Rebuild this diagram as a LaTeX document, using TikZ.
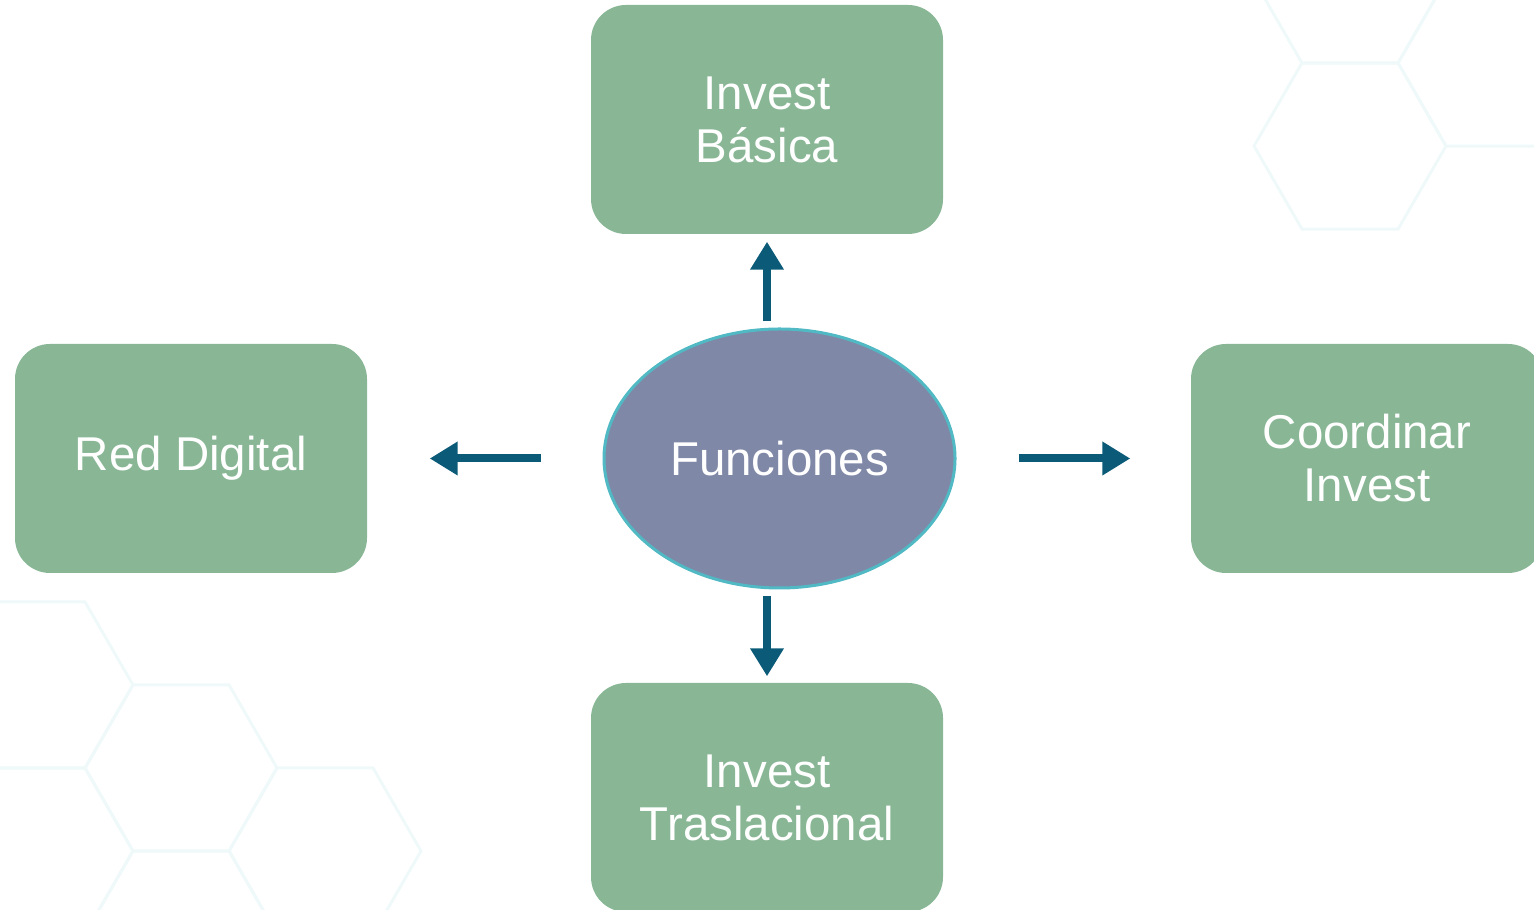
\documentclass[tikz,border=0pt]{standalone}
\usepackage{fontspec}
\setmainfont{Liberation Sans}
\usetikzlibrary{shapes.geometric,arrows.meta}
\definecolor{boxgreen}{RGB}{137,183,150}
\definecolor{funfill}{RGB}{128,136,168}
\definecolor{funline}{RGB}{80,185,195}
\definecolor{arrblue}{RGB}{10,90,120}
\definecolor{hexcol}{RGB}{240,249,249}
\begin{document}
\begin{tikzpicture}[
    box/.style={rectangle,rounded corners=0.35cm,fill=boxgreen,text=white,
      minimum width=3.52cm,minimum height=2.29cm,align=center,
      font=\fontsize{13.5}{15.1}\selectfont},
    fun/.style={ellipse,fill=funfill,draw=funline,line width=0.03cm,text=white,
      minimum width=3.51cm,minimum height=2.59cm,inner sep=0pt,
      font=\fontsize{13.5}{15.1}\selectfont},
    arr/.style={draw=arrblue,line width=0.08cm,
      -{Triangle[width=0.32cm,length=0.28cm]}},
    hex/.style={draw=hexcol,line width=0.03cm}]
  \clip (0,0) rectangle (15.34,9.10);
  % faint background hexagons
  \foreach \hx/\hy in {0.37/2.25,1.81/1.42,0.37/0.59,1.81/-0.24,3.25/0.59,
      13.50/9.30,14.94/8.47,13.50/7.64}
    \draw[hex] (\hx,\hy) +(0:0.96) -- +(60:0.96) -- +(120:0.96) -- +(180:0.96)
      -- +(240:0.96) -- +(300:0.96) -- cycle;
  % nodes
  \node[box] (top) at (7.67,7.905) {Invest\\Básica};
  \node[box] (red) at (1.91,4.515) {Red Digital};
  \node[box] (coord) at (13.67,4.515) {Coordinar\\Invest};
  \node[box] (bot) at (7.67,1.125) {Invest\\Traslacional};
  \node[fun] (f) at (7.795,4.515) {Funciones};
  % arrows
  \draw[arr,shorten <=0.06cm,shorten >=0.07cm] (top.south |- f.north) -- (top.south);
  \draw[arr,shorten <=0.07cm,shorten >=0.06cm] (bot.north |- f.south) -- (bot.north);
  \draw[arr,shorten <=0.62cm,shorten >=0.62cm] (f.west) -- (red.east);
  \draw[arr,shorten <=0.62cm,shorten >=0.60cm] (f.east) -- (coord.west);
\end{tikzpicture}
\end{document}
